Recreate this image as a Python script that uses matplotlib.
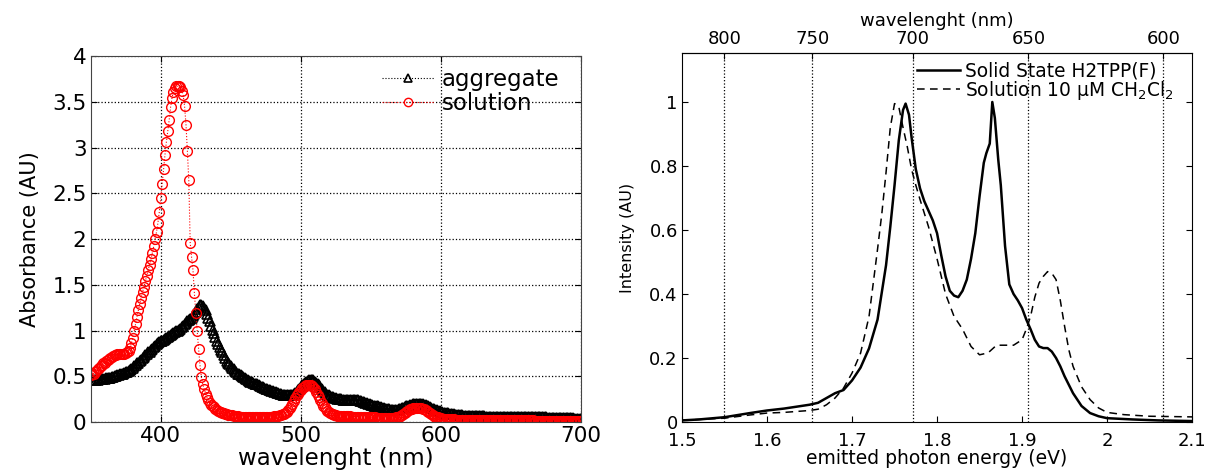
import numpy as np
import matplotlib
matplotlib.use('Agg')
import matplotlib.pyplot as plt

plt.rcParams['font.family'] = ['DejaVu Sans']
plt.rcParams['mathtext.fontset'] = 'dejavusans'

# ---- left panel: absorbance, 1 nm steps ----
wl = np.arange(350, 701, 1)
abs_agg = [
    0.46, 0.46, 0.46, 0.46, 0.46, 0.46, 0.47, 0.47, 0.47, 0.47,   # 350
    0.47, 0.48, 0.48, 0.48, 0.48, 0.49, 0.49, 0.50, 0.50, 0.51,   # 360
    0.51, 0.52, 0.52, 0.53, 0.54, 0.55, 0.55, 0.56, 0.57, 0.58,   # 370
    0.59, 0.61, 0.62, 0.64, 0.65, 0.67, 0.68, 0.70, 0.71, 0.73,   # 380
    0.74, 0.76, 0.77, 0.79, 0.80, 0.82, 0.83, 0.85, 0.86, 0.87,   # 390
    0.88, 0.89, 0.90, 0.91, 0.92, 0.93, 0.94, 0.95, 0.96, 0.97,   # 400
    0.98, 0.99, 1.00, 1.01, 1.02, 1.04, 1.05, 1.07, 1.08, 1.10,   # 410
    1.11, 1.13, 1.14, 1.16, 1.18, 1.20, 1.23, 1.26, 1.28, 1.28,   # 420
    1.27, 1.25, 1.22, 1.18, 1.14, 1.10, 1.05, 1.01, 0.97, 0.93,   # 430
    0.89, 0.85, 0.82, 0.79, 0.76, 0.73, 0.70, 0.67, 0.65, 0.63,   # 440
    0.61, 0.59, 0.58, 0.56, 0.55, 0.53, 0.52, 0.51, 0.50, 0.49,   # 450
    0.48, 0.47, 0.46, 0.45, 0.44, 0.44, 0.43, 0.42, 0.41, 0.41,   # 460
    0.40, 0.39, 0.38, 0.38, 0.37, 0.36, 0.36, 0.35, 0.35, 0.34,   # 470
    0.34, 0.33, 0.33, 0.32, 0.32, 0.31, 0.31, 0.30, 0.30, 0.29,   # 480
    0.29, 0.29, 0.29, 0.29, 0.30, 0.31, 0.32, 0.33, 0.35, 0.36,   # 490
    0.38, 0.40, 0.41, 0.43, 0.44, 0.45, 0.46, 0.46, 0.46, 0.46,   # 500
    0.44, 0.43, 0.41, 0.40, 0.38, 0.36, 0.34, 0.33, 0.31, 0.30,   # 510
    0.29, 0.28, 0.27, 0.27, 0.26, 0.26, 0.25, 0.25, 0.25, 0.25,   # 520
    0.24, 0.24, 0.24, 0.24, 0.24, 0.24, 0.24, 0.24, 0.24, 0.24,   # 530
    0.24, 0.24, 0.23, 0.23, 0.22, 0.22, 0.21, 0.21, 0.20, 0.20,   # 540
    0.19, 0.19, 0.18, 0.18, 0.17, 0.17, 0.16, 0.16, 0.15, 0.15,   # 550
    0.14, 0.14, 0.14, 0.14, 0.13, 0.13, 0.13, 0.13, 0.13, 0.13,   # 560
    0.14, 0.14, 0.15, 0.15, 0.16, 0.17, 0.18, 0.18, 0.19, 0.19,   # 570
    0.20, 0.20, 0.20, 0.20, 0.20, 0.20, 0.20, 0.20, 0.19, 0.19,   # 580
    0.18, 0.17, 0.16, 0.15, 0.14, 0.14, 0.13, 0.13, 0.12, 0.12,   # 590
    0.11, 0.11, 0.10, 0.10, 0.10, 0.10, 0.09, 0.09, 0.09, 0.09,   # 600
    0.08, 0.08, 0.08, 0.08, 0.08, 0.08, 0.07, 0.07, 0.07, 0.07,   # 610
    0.07, 0.07, 0.07, 0.07, 0.07, 0.07, 0.07, 0.07, 0.07, 0.07,   # 620
    0.07, 0.07, 0.06, 0.06, 0.06, 0.06, 0.06, 0.06, 0.06, 0.06,   # 630
    0.06, 0.06, 0.06, 0.06, 0.06, 0.06, 0.06, 0.06, 0.06, 0.06,   # 640
    0.06, 0.06, 0.05, 0.05, 0.05, 0.05, 0.05, 0.05, 0.05, 0.05,   # 650
    0.05, 0.05, 0.05, 0.05, 0.05, 0.05, 0.05, 0.05, 0.05, 0.05,   # 660
    0.05, 0.05, 0.05, 0.05, 0.05, 0.05, 0.04, 0.04, 0.04, 0.04,   # 670
    0.04, 0.04, 0.04, 0.04, 0.04, 0.04, 0.04, 0.04, 0.04, 0.04,   # 680
    0.04, 0.04, 0.04, 0.04, 0.04, 0.03, 0.03, 0.03, 0.03, 0.03,   # 690
    0.03,                                                         # 700
]
abs_sol = [
    0.51, 0.52, 0.53, 0.55, 0.56, 0.58, 0.59, 0.61, 0.62, 0.64,   # 350
    0.65, 0.67, 0.68, 0.69, 0.70, 0.71, 0.72, 0.73, 0.73, 0.74,   # 360
    0.74, 0.74, 0.74, 0.74, 0.74, 0.75, 0.76, 0.78, 0.81, 0.86,   # 370
    0.92, 0.99, 1.07, 1.15, 1.22, 1.29, 1.36, 1.42, 1.48, 1.54,   # 380
    1.60, 1.66, 1.72, 1.78, 1.85, 1.92, 2.00, 2.08, 2.18, 2.30,   # 390
    2.45, 2.60, 2.76, 2.92, 3.06, 3.18, 3.30, 3.44, 3.54, 3.61,   # 400
    3.65, 3.67, 3.67, 3.67, 3.66, 3.62, 3.57, 3.45, 3.25, 2.96,   # 410
    2.64, 1.96, 1.80, 1.66, 1.41, 1.19, 0.99, 0.80, 0.62, 0.49,   # 420
    0.41, 0.36, 0.31, 0.27, 0.24, 0.21, 0.19, 0.17, 0.16, 0.14,   # 430
    0.13, 0.12, 0.11, 0.105, 0.10, 0.095, 0.09, 0.085, 0.08, 0.078,  # 440
    0.075, 0.072, 0.07, 0.068, 0.065, 0.062, 0.06, 0.06, 0.06, 0.06,  # 450
    0.06, 0.06, 0.06, 0.06, 0.06, 0.06, 0.06, 0.06, 0.06, 0.06,   # 460
    0.06, 0.06, 0.06, 0.06, 0.06, 0.06, 0.06, 0.06, 0.06, 0.06,   # 470
    0.06, 0.062, 0.065, 0.068, 0.07, 0.075, 0.08, 0.085, 0.09, 0.10,  # 480
    0.11, 0.13, 0.15, 0.17, 0.20, 0.23, 0.26, 0.29, 0.31, 0.33,   # 490
    0.35, 0.37, 0.38, 0.39, 0.40, 0.40, 0.40, 0.40, 0.39, 0.38,   # 500
    0.36, 0.33, 0.30, 0.27, 0.24, 0.21, 0.18, 0.16, 0.14, 0.12,   # 510
    0.11, 0.10, 0.09, 0.085, 0.08, 0.075, 0.07, 0.07, 0.07, 0.07,  # 520
    0.07, 0.07, 0.065, 0.065, 0.065, 0.065, 0.06, 0.06, 0.06, 0.06,  # 530
    0.06, 0.06, 0.06, 0.06, 0.055, 0.055, 0.055, 0.055, 0.05, 0.05,  # 540
    0.05, 0.05, 0.05, 0.05, 0.045, 0.045, 0.04, 0.04, 0.04, 0.04,   # 550
    0.04, 0.04, 0.04, 0.04, 0.04, 0.042, 0.045, 0.048, 0.05, 0.055,  # 560
    0.06, 0.07, 0.08, 0.09, 0.10, 0.11, 0.12, 0.13, 0.14, 0.145,    # 570
    0.15, 0.15, 0.15, 0.15, 0.15, 0.15, 0.15, 0.145, 0.14, 0.13,    # 580
    0.12, 0.11, 0.10, 0.09, 0.08, 0.07, 0.06, 0.055, 0.05, 0.045,   # 590
    0.04, 0.037, 0.035, 0.032, 0.03, 0.03, 0.03, 0.03, 0.03, 0.028,  # 600
    0.027, 0.026, 0.025, 0.025, 0.025, 0.025, 0.025, 0.025, 0.025, 0.022,  # 610
    0.02, 0.02, 0.02, 0.02, 0.02, 0.02, 0.02, 0.02, 0.02, 0.02,     # 620
    0.02, 0.02, 0.02, 0.02, 0.02, 0.02, 0.02, 0.02, 0.02, 0.02,     # 630
    0.02, 0.02, 0.02, 0.02, 0.02, 0.02, 0.02, 0.02, 0.02, 0.02,     # 640
    0.02, 0.02, 0.02, 0.02, 0.02, 0.02, 0.02, 0.02, 0.02, 0.02,     # 650
    0.02, 0.02, 0.02, 0.02, 0.018, 0.018, 0.018, 0.015, 0.015, 0.015,  # 660
    0.015, 0.015, 0.015, 0.015, 0.015, 0.015, 0.015, 0.015, 0.015, 0.015,  # 670
    0.015, 0.015, 0.015, 0.012, 0.012, 0.012, 0.01, 0.01, 0.01, 0.01,  # 680
    0.01, 0.01, 0.01, 0.01, 0.01, 0.01, 0.01, 0.01, 0.01, 0.01,     # 690
    0.01,                                                           # 700
]

# ---- right panel: emission vs photon energy ----
e_solid = [1.50, 1.52, 1.55, 1.58, 1.60, 1.62, 1.65, 1.66, 1.67, 1.68, 1.69, 1.70,
           1.71, 1.72, 1.73, 1.74, 1.745, 1.75, 1.755, 1.76, 1.763, 1.767, 1.77, 1.775,
           1.78, 1.785, 1.79, 1.795, 1.80, 1.805, 1.81, 1.815, 1.82, 1.825, 1.83, 1.835,
           1.84, 1.845, 1.85, 1.855, 1.858, 1.862, 1.865, 1.868, 1.872, 1.875, 1.88, 1.885,
           1.89, 1.895, 1.90, 1.905, 1.91, 1.915, 1.92, 1.925, 1.93, 1.935, 1.94, 1.945,
           1.95, 1.96, 1.97, 1.98, 1.99, 2.00, 2.03, 2.06, 2.10]
i_solid = [0.005, 0.008, 0.015, 0.028, 0.036, 0.042, 0.054, 0.060, 0.075, 0.090, 0.100, 0.130,
           0.170, 0.230, 0.320, 0.490, 0.610, 0.740, 0.880, 0.975, 0.995, 0.960, 0.890, 0.790,
           0.730, 0.690, 0.660, 0.630, 0.590, 0.520, 0.455, 0.410, 0.395, 0.390, 0.410, 0.445,
           0.510, 0.590, 0.705, 0.810, 0.840, 0.870, 1.000, 0.950, 0.820, 0.740, 0.550, 0.430,
           0.400, 0.380, 0.356, 0.320, 0.290, 0.257, 0.236, 0.231, 0.231, 0.220, 0.200, 0.174,
           0.143, 0.090, 0.050, 0.028, 0.018, 0.012, 0.008, 0.005, 0.003]

e_sol = [1.50, 1.52, 1.55, 1.58, 1.60, 1.62, 1.65, 1.66, 1.67, 1.68, 1.69, 1.70,
         1.71, 1.72, 1.73, 1.735, 1.74, 1.745, 1.75, 1.755, 1.76, 1.765, 1.77, 1.775,
         1.78, 1.79, 1.80, 1.81, 1.82, 1.83, 1.84, 1.85, 1.86, 1.87, 1.88, 1.89,
         1.90, 1.905, 1.91, 1.915, 1.92, 1.925, 1.93, 1.935, 1.94, 1.945, 1.95, 1.955,
         1.96, 1.97, 1.98, 1.99, 2.00, 2.02, 2.05, 2.10]
i_sol = [0.005, 0.008, 0.012, 0.022, 0.028, 0.030, 0.036, 0.040, 0.054, 0.075, 0.106, 0.153,
         0.215, 0.330, 0.540, 0.650, 0.780, 0.920, 0.995, 0.985, 0.920, 0.860, 0.790, 0.740,
         0.695, 0.610, 0.510, 0.400, 0.330, 0.290, 0.236, 0.210, 0.216, 0.240, 0.240, 0.240,
         0.257, 0.290, 0.330, 0.390, 0.434, 0.455, 0.470, 0.465, 0.445, 0.380, 0.300, 0.226,
         0.174, 0.110, 0.070, 0.044, 0.030, 0.023, 0.018, 0.016]

wl_top_ticks = [800, 750, 700, 650, 600]
HC = 1239.84  # eV*nm

fig = plt.figure(figsize=(12.08, 4.73), dpi=100)

# left panel
ax1 = fig.add_axes([0.0751, 0.1078, 0.4059, 0.7738])
ax1.plot(wl, abs_agg, ':', color='black', lw=0.8, marker='^', ms=7,
         mfc='none', mec='black', mew=1.2, label='aggregate')
ax1.plot(wl, abs_sol, ':', color='red', lw=0.8, marker='o', ms=7,
         mfc='none', mec='red', mew=1.0, label='solution')
ax1.set_xlim(350, 700)
ax1.set_ylim(0, 4)
ax1.set_xticks([400, 500, 600, 700])
ax1.set_yticks([0, 0.5, 1, 1.5, 2, 2.5, 3, 3.5, 4])
ax1.set_yticklabels(['0', '0.5', '1', '1.5', '2', '2.5', '3', '3.5', '4'])
ax1.tick_params(direction='in', labelsize=15.5, top=True, right=True, length=4, pad=3)
ax1.grid(True, linestyle=':', color='black', lw=0.9)
for s in ax1.spines.values():
    s.set_color('#444444')
ax1.set_xlabel('wavelenght (nm)', fontsize=16.5, labelpad=0.5)
ax1.set_ylabel('Absorbance (AU)', fontsize=15, labelpad=9)
leg1 = ax1.legend(loc='upper left', bbox_to_anchor=(0.3162, 0.857), bbox_transform=fig.transFigure,
                  frameon=False, fontsize=16.5, handlelength=2.3, handletextpad=0.3,
                  borderpad=0, borderaxespad=0, labelspacing=0.05)
for h in leg1.legend_handles:
    h.set_markersize(6)

# right panel
ax2 = fig.add_axes([0.5646, 0.1078, 0.4222, 0.7801])
ax2.plot(e_solid, i_solid, '-', color='black', lw=1.8, label='Solid State H2TPP(F)')
ax2.plot(e_sol, i_sol, color='black', lw=1.1, dashes=(5, 3.5),
         label='Solution 10 μM CH$_2$Cl$_2$')
for w in wl_top_ticks:
    ax2.axvline(HC / w, color='black', linestyle=':', lw=0.9)
ax2.set_xlim(1.5, 2.1)
ax2.set_ylim(0, 1.153)
ax2.set_xticks([1.5, 1.6, 1.7, 1.8, 1.9, 2.0, 2.1])
ax2.set_xticklabels(['1.5', '1.6', '1.7', '1.8', '1.9', '2', '2.1'])
ax2.set_yticks([0, 0.2, 0.4, 0.6, 0.8, 1])
ax2.set_yticklabels(['0', '0.2', '0.4', '0.6', '0.8', '1'])
ax2.tick_params(axis='x', direction='in', labelsize=13, length=4, pad=7.5)
ax2.tick_params(axis='y', direction='in', labelsize=13, right=True, length=4, pad=3)
ax2.set_xlabel('emitted photon energy (eV)', fontsize=13.5, labelpad=-1)
ax2.set_ylabel('Intensity (AU)', fontsize=11.5, labelpad=10)
top = ax2.secondary_xaxis('top', functions=(lambda e: HC / e, lambda w: HC / w))
top.set_xticks(wl_top_ticks)
top.tick_params(direction='in', labelsize=13, length=4, pad=3.5)
top.set_xlabel('wavelenght (nm)', fontsize=13, labelpad=3)
ax2.legend(loc='upper left', bbox_to_anchor=(0.759, 0.870), bbox_transform=fig.transFigure,
           frameon=False, fontsize=13.4, handlelength=2.3, handletextpad=0.27,
           borderpad=0, borderaxespad=0, labelspacing=-0.1)

fig.savefig('out.png', dpi=100)
